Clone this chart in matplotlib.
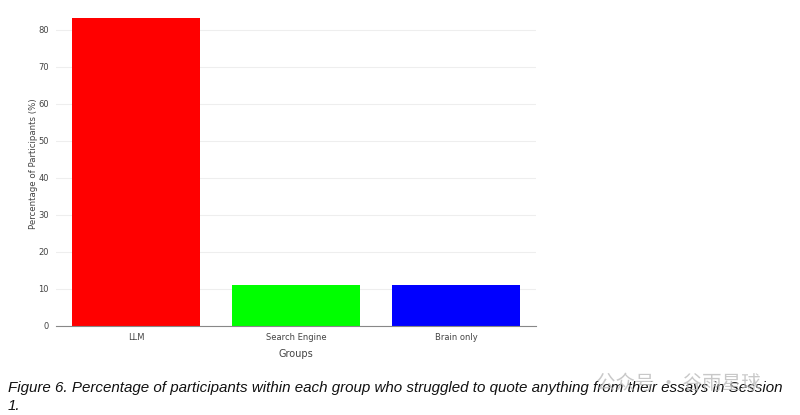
import matplotlib.pyplot as plt

# data
groups = ['LLM', 'Search Engine', 'Brain only']
pct = [83.3, 11.1, 11.1]
colors = ['#ff0000', '#00ff00', '#0000ff']

plt.rcParams['font.family'] = ['DejaVu Sans']

fig = plt.figure(figsize=(8, 4.15), dpi=100)
ax = fig.add_axes([0.07, 0.2145, 0.60, 0.782])

ax.bar(groups, pct, width=0.8, color=colors, zorder=2)
ax.set_xlim(-0.5, 2.5)
ax.set_ylim(0, 87.7)
ax.set_yticks(range(0, 81, 10))
ax.yaxis.grid(True, color='#eeeeee', linewidth=0.8, zorder=0)
for s in ['top', 'right', 'left']:
    ax.spines[s].set_visible(False)
ax.spines['bottom'].set_color('#888888')
ax.tick_params(axis='both', length=0, labelsize=6, labelcolor='#444444', pad=5)
ax.set_ylabel('Percentage of Participants (%)', fontsize=6.2, color='#444444', labelpad=0)
ax.set_xlabel('Groups', fontsize=7, color='#444444', labelpad=5)

cap = ('Figure 6. Percentage of participants within each group who struggled to quote anything from their essays in Session\n1.')
fig.text(0.01, 1 - 381 / 415, cap, fontsize=10.9, style='italic', va='top',
         family=['Liberation Sans', 'DejaVu Sans'], color='#111111', linespacing=1.4)

# watermark
fig.text(0.745, 0.062, '公众号 · 谷雨星球', fontsize=14, color='#bbbbbb', alpha=0.8,
         family=['Noto Sans CJK SC', 'DejaVu Sans'])

fig.savefig('out.png', dpi=100, facecolor='white')
